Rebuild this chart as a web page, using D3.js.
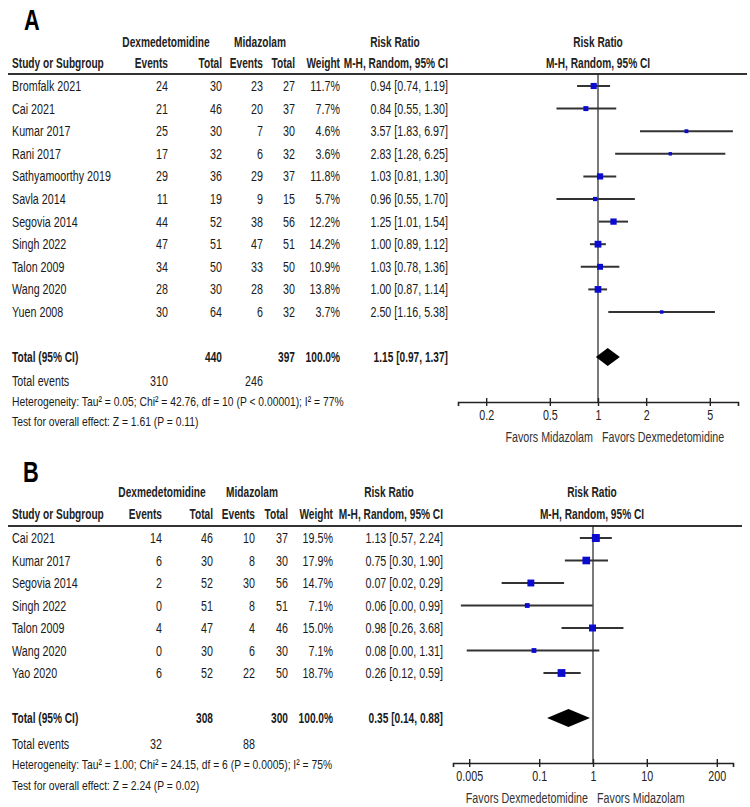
<!DOCTYPE html>
<html><head><meta charset="utf-8">
<script src="https://cdn.jsdelivr.net/npm/d3@7"></script>
<style>body{margin:0;background:#fff} svg{display:block}</style>
</head><body>
<svg id="c" width="750" height="807"></svg>
<script>
// ---------- Panel A data ----------
const studiesA = ["Bromfalk 2021","Cai 2021","Kumar 2017","Rani 2017","Sathyamoorthy 2019","Savla 2014","Segovia 2014","Singh 2022","Talon 2009","Wang 2020","Yuen 2008"];
const dexEventsA = [24,21,25,17,29,11,44,47,34,28,30];
const dexTotalA  = [30,46,30,32,36,19,52,51,50,30,64];
const midEventsA = [23,20,7,6,29,9,38,47,33,28,6];
const midTotalA  = [27,37,30,32,37,15,56,51,50,30,32];
const weightA = [11.7,7.7,4.6,3.6,11.8,5.7,12.2,14.2,10.9,13.8,3.7];
const rrA   = [0.94,0.84,3.57,2.83,1.03,0.96,1.25,1.00,1.03,1.00,2.50];
const lowA  = [0.74,0.55,1.83,1.28,0.81,0.55,1.01,0.89,0.78,0.87,1.16];
const highA = [1.19,1.30,6.97,6.25,1.30,1.70,1.54,1.12,1.36,1.14,5.38];
const totalA = {dexTotal:440, midTotal:397, weight:"100.0%", rr:1.15, low:0.97, high:1.37, dexEvents:310, midEvents:246};
const hetA = "Heterogeneity: Tau\u00b2 = 0.05; Chi\u00b2 = 42.76, df = 10 (P < 0.00001); I\u00b2 = 77%";
const testA = "Test for overall effect: Z = 1.61 (P = 0.11)";
const ticksA = [0.2,0.5,1,2,5];
const favorsA = ["Favors Midazolam","Favors Dexmedetomidine"];

// ---------- Panel B data ----------
const studiesB = ["Cai 2021","Kumar 2017","Segovia 2014","Singh 2022","Talon 2009","Wang 2020","Yao 2020"];
const dexEventsB = [14,6,2,0,4,0,6];
const dexTotalB  = [46,30,52,51,47,30,52];
const midEventsB = [10,8,30,8,4,6,22];
const midTotalB  = [37,30,56,51,46,30,50];
const weightB = [19.5,17.9,14.7,7.1,15.0,7.1,18.7];
const rrB   = [1.13,0.75,0.07,0.06,0.98,0.08,0.26];
const lowB  = [0.57,0.30,0.02,0.0035,0.26,0.0045,0.12];
const highB = [2.24,1.90,0.29,0.99,3.68,1.31,0.59];
const totalB = {dexTotal:308, midTotal:300, weight:"100.0%", rr:0.35, low:0.14, high:0.88, dexEvents:32, midEvents:88};
const hetB = "Heterogeneity: Tau\u00b2 = 1.00; Chi\u00b2 = 24.15, df = 6 (P = 0.0005); I\u00b2 = 75%";
const testB = "Test for overall effect: Z = 2.24 (P = 0.02)";
const ticksB = [0.005,0.1,1,10,200];
const favorsB = ["Favors Dexmedetomidine","Favors Midazolam"];

const svg = d3.select("#c");
const FONT = "'Liberation Sans', Arial, sans-serif";
const FS = 14.5;     // body font size
const SX = 0.74;     // horizontal condensing (narrow face)
const SXB = 0.70;    // condensing for bold text
const fmt2 = d3.format(".2f");

function txt(g, x, y, s, o = {}) {
  const sx = o.sx || (o.bold ? SXB : SX);
  return g.append("text")
    .attr("transform", `translate(${x},${y}) scale(${sx},1)`)
    .attr("dy", "0.35em")
    .attr("text-anchor", o.anchor || "start")
    .attr("font-family", FONT)
    .attr("font-size", o.size || FS)
    .attr("font-weight", o.bold ? "bold" : "normal")
    .attr("fill", o.color || "#1a1a1a")
    .text(s);
}

function panel(d, L) {
  const g = svg.append("g");
  txt(g, L.labelX, L.labelY, L.label, {size: 29, bold: true, sx: 0.75, color: "#000"});
  // headers
  const hb = {bold: true, anchor: "middle", color: "#222"};
  txt(g, L.hDex, L.h1, "Dexmedetomidine", hb);
  txt(g, L.hMid, L.h1, "Midazolam", hb);
  txt(g, L.hRR, L.h1, "Risk Ratio", hb);
  txt(g, L.fx, L.h1, "Risk Ratio", hb);
  txt(g, 12, L.h2, "Study or Subgroup", {bold: true, color: "#222"});
  const hr = {bold: true, anchor: "end", color: "#222"};
  txt(g, L.cDexE, L.h2, "Events", hr);
  txt(g, L.cDexT, L.h2, "Total", hr);
  txt(g, L.cMidE, L.h2, "Events", hr);
  txt(g, L.cMidT, L.h2, "Total", hr);
  txt(g, L.cW, L.h2, "Weight", hr);
  txt(g, L.cRR, L.h2, "M-H, Random, 95% CI", hr);
  txt(g, L.fx, L.h2, "M-H, Random, 95% CI", hb);
  g.append("line").attr("x1", 8).attr("x2", L.lineEnd).attr("y1", L.hl).attr("y2", L.hl)
    .attr("stroke", "#333").attr("stroke-width", 2);

  const x = d3.scaleLog().domain(L.domain).range(L.range);
  const y = i => L.row0 + i * L.step;
  const r = {anchor: "end"};
  d.studies.forEach((s, i) => {
    txt(g, 12, y(i), s);
    txt(g, L.cDexE, y(i), d.dexEvents[i], r);
    txt(g, L.cDexT, y(i), d.dexTotal[i], r);
    txt(g, L.cMidE, y(i), d.midEvents[i], r);
    txt(g, L.cMidT, y(i), d.midTotal[i], r);
    txt(g, L.cW, y(i), d.weight[i].toFixed(1) + "%", r);
    txt(g, L.cRR, y(i), `${fmt2(d.rr[i])} [${fmt2(d.low[i])}, ${fmt2(d.high[i])}]`, r);
  });
  // totals
  const tb = {bold: true, anchor: "end"};
  txt(g, 12, L.tY, "Total (95% CI)", {bold: true});
  txt(g, L.cDexT, L.tY, d.total.dexTotal, tb);
  txt(g, L.cMidT, L.tY, d.total.midTotal, tb);
  txt(g, L.cW, L.tY, d.total.weight, tb);
  txt(g, L.cRR, L.tY, `${fmt2(d.total.rr)} [${fmt2(d.total.low)}, ${fmt2(d.total.high)}]`, tb);
  txt(g, 12, L.eY, "Total events");
  txt(g, L.cDexE, L.eY, d.total.dexEvents, r);
  txt(g, L.cMidE, L.eY, d.total.midEvents, r);
  txt(g, 12, L.hetY, d.het, {size: 13.6, sx: 0.76});
  txt(g, 12, L.testY, d.test, {size: 13.6, sx: 0.76});

  // forest: reference line
  g.append("line").attr("x1", x(1)).attr("x2", x(1)).attr("y1", L.hl).attr("y2", L.axisY)
    .attr("stroke", "#222").attr("stroke-width", 1.2);
  // CI lines & squares
  d.studies.forEach((s, i) => {
    g.append("line").attr("x1", x(d.low[i])).attr("x2", x(d.high[i]))
      .attr("y1", y(i)).attr("y2", y(i)).attr("stroke", "#333").attr("stroke-width", 2);
    const side = 1.8 * Math.sqrt(d.weight[i]);
    g.append("rect").attr("x", x(d.rr[i]) - side / 2).attr("y", y(i) - side / 2)
      .attr("width", side).attr("height", side).attr("fill", "#0b0bd0");
  });
  // diamond
  const hh = 9;
  g.append("path")
    .attr("d", `M${x(d.total.low)},${L.tY} L${x(d.total.rr)},${L.tY - hh} L${x(d.total.high)},${L.tY} L${x(d.total.rr)},${L.tY + hh} Z`)
    .attr("fill", "#000");
  // axis
  const ax = g.append("g").attr("transform", `translate(0,${L.axisY})`)
    .call(d3.axisBottom(x).tickValues(d.ticks).tickFormat(v => String(v)).tickSizeOuter(0).tickSize(4));
  ax.select(".domain").attr("stroke", "#222").attr("stroke-width", 1.6);
  ax.selectAll(".tick line").attr("y1", -4).attr("y2", 4).attr("stroke", "#222").attr("stroke-width", 1.4);
  ax.selectAll(".tick text").attr("y", 8).attr("font-family", FONT).attr("font-size", FS)
    .attr("fill", "#222").attr("transform", `scale(${SX},1)`);
  txt(g, x(1) - 5, L.favY, d.favors[0], {anchor: "end", color: "#333"});
  txt(g, x(1) + 4, L.favY, d.favors[1], {color: "#333"});
}

panel({studies: studiesA, dexEvents: dexEventsA, dexTotal: dexTotalA, midEvents: midEventsA, midTotal: midTotalA,
  weight: weightA, rr: rrA, low: lowA, high: highA, total: totalA, het: hetA, test: testA, ticks: ticksA, favors: favorsA},
  {label: "A", labelX: 24, labelY: 20, h1: 42, h2: 63, hl: 74, row0: 86, step: 22.6,
   tY: 357, eY: 381, hetY: 401, testY: 421,
   hDex: 166, hMid: 260, hRR: 395, fx: 598,
   cDexE: 168, cDexT: 222, cMidE: 263, cMidT: 295, cW: 340, cRR: 448, lineEnd: 747,
   domain: [1 / 7.5, 7.5], range: [458, 738], axisY: 402, favY: 437});

panel({studies: studiesB, dexEvents: dexEventsB, dexTotal: dexTotalB, midEvents: midEventsB, midTotal: midTotalB,
  weight: weightB, rr: rrB, low: lowB, high: highB, total: totalB, het: hetB, test: testB, ticks: ticksB, favors: favorsB},
  {label: "B", labelX: 23, labelY: 472, h1: 492, h2: 514, hl: 526, row0: 538, step: 22.5,
   tY: 718, eY: 744, hetY: 764, testY: 785,
   hDex: 162, hMid: 252, hRR: 389, fx: 592,
   cDexE: 162, cDexT: 213, cMidE: 255, cMidT: 288, cW: 333, cRR: 443, lineEnd: 742,
   domain: [0.0025, 400], range: [453, 733], axisY: 763, favY: 798});
</script>
</body></html>
